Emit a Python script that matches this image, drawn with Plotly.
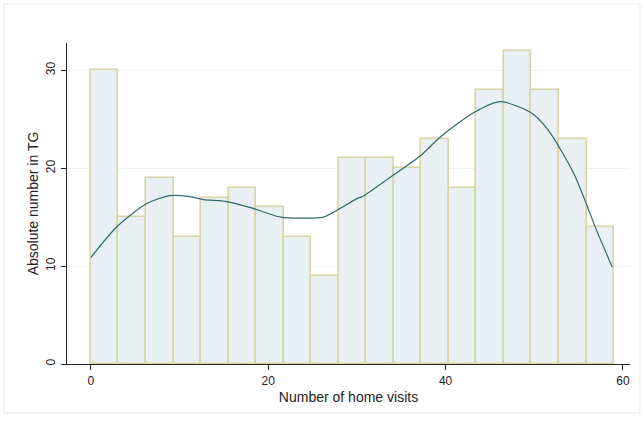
import plotly.graph_objects as go

# Histogram of home visits (19 equal bins from 0 to 59)
bin_start = 0.0
bin_end = 59.0
counts = [30, 15, 19, 13, 17, 18, 16, 13, 9, 21, 21, 20, 23, 18, 28, 32, 28, 23, 14]

# Kernel density estimate, scaled to counts
kde_x = [0.0, 2.9, 6.3, 8.9, 11.2, 12.7, 15.3, 18.3, 19.9, 21.4, 24.0, 26.2, 28.1,
         30.0, 30.8, 33.8, 37.2, 39.4, 43.2, 46.2, 49.6, 51.5, 54.5,
         57.1, 58.8]
kde_y = [10.9, 14.0, 16.4, 17.2, 17.1, 16.8, 16.6, 15.9, 15.4, 15.0, 14.9, 15.0, 15.9,
         16.9, 17.2, 19.1, 21.3, 23.2, 25.7, 26.8, 25.7, 24.0, 19.4,
         13.5, 9.9]

x_ticks = [0, 20, 40, 60]
y_ticks = [0, 10, 20, 30]

n_bins = len(counts)
bw = (bin_end - bin_start) / n_bins
centers = [bin_start + bw * (i + 0.5) for i in range(n_bins)]

W, H = 644, 421
ml, mr, mt, mb = 67, 14, 43, 57

fig = go.Figure()
fig.add_trace(go.Bar(
    x=centers, y=counts, width=[bw] * n_bins,
    marker=dict(color="#e8f0f3", line=dict(color="#d8d4a6", width=1.6)),
    showlegend=False, hoverinfo="x+y",
))
fig.add_trace(go.Scatter(
    x=kde_x, y=kde_y, mode="lines",
    line=dict(color="#2f6a6c", width=1.2, shape="spline", smoothing=0.7),
    showlegend=False,
))

family = "Liberation Sans, Arial, sans-serif"
tick_font = dict(family=family, size=12, color="#222222")
title_font = dict(family=family, size=14, color="#222222")

fig.update_layout(
    width=W, height=H,
    margin=dict(l=ml, r=mr, t=mt, b=mb),
    paper_bgcolor="white", plot_bgcolor="white",
    font=tick_font, bargap=0,
    xaxis=dict(
        range=[-2.7, 60.8], tickvals=x_ticks, ticks="outside", ticklen=5,
        tickcolor="#222", showline=True, linecolor="#222", linewidth=1.2,
        showgrid=False, zeroline=False, tickfont=tick_font,
        title=dict(text="Number of home visits", font=title_font, standoff=5),
    ),
    yaxis=dict(
        range=[0, 32.8], tickvals=y_ticks, ticks="outside", ticklen=5,
        tickcolor="#222", showline=True, linecolor="#222", linewidth=1.2,
        showgrid=True, gridcolor="#edf2f2", gridwidth=1, zeroline=False,
        tickangle=-90, tickfont=tick_font, ticklabelstandoff=1,
        title=dict(text="Absolute number in TG", font=title_font, standoff=2),
    ),
)

# faint outer frame
pw, ph = W - ml - mr, H - mt - mb
fig.add_shape(
    type="rect", xref="paper", yref="paper",
    x0=(4 - ml) / pw, x1=(W - 4 - ml) / pw,
    y0=(H - 8 - (H - mb)) / -ph, y1=(mt - 4) / ph + 1,
    line=dict(color="#eef0f0", width=1.5), layer="below",
)

fig.write_html("out.html")
